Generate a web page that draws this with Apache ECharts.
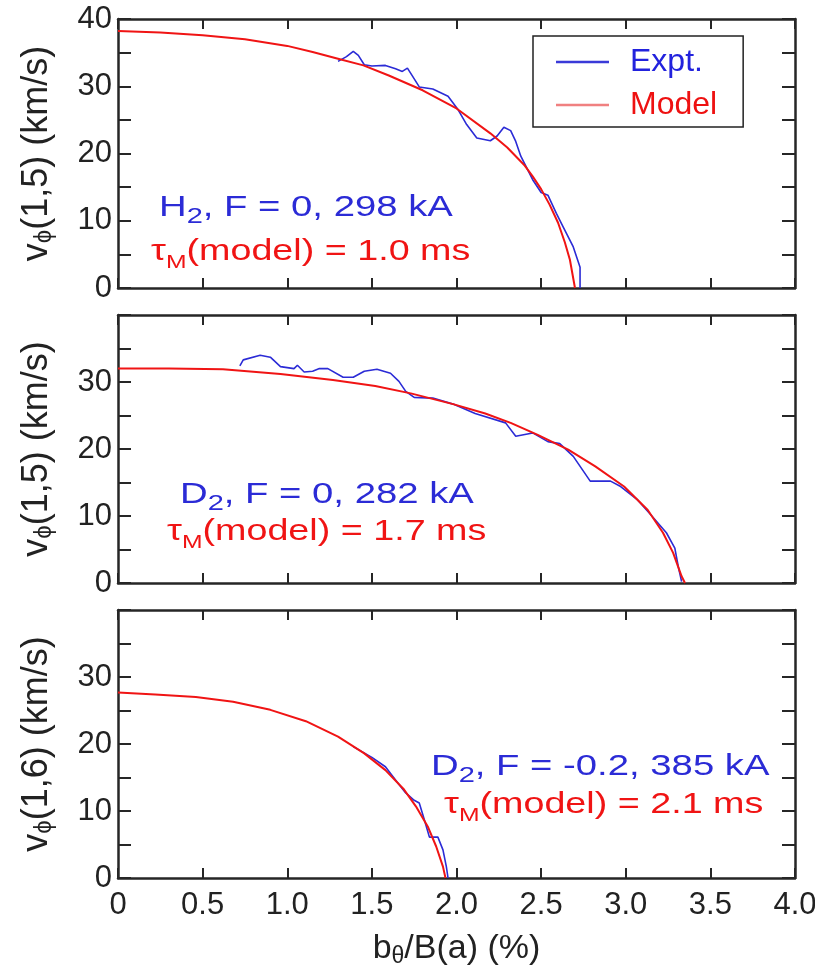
<!DOCTYPE html>
<html>
<head>
<meta charset="utf-8">
<script src="https://cdn.jsdelivr.net/npm/echarts@6/dist/echarts.min.js"></script>
<style>html,body{margin:0;padding:0;background:#fff}#c{width:815px;height:966px}</style>
</head>
<body>
<div id="c"></div>
<script>
// ---- data ----
const xTickLabels = ['0','0.5','1.0','1.5','2.0','2.5','3.0','3.5','4.0'];
const yTickLabelsTop = [0,10,20,30,40];
const yTickLabelsOther = [0,10,20,30];

const p1Expt = [[1.30,33.7],[1.35,34.4],[1.39,35.2],[1.42,34.6],[1.455,33.2],[1.50,33.0],[1.58,33.1],[1.64,32.6],[1.68,32.2],[1.71,32.7],[1.74,31.5],[1.78,29.9],[1.86,29.6],[1.95,28.5],[2.01,26.5],[2.06,24.3],[2.12,22.3],[2.20,21.9],[2.24,22.6],[2.28,23.9],[2.32,23.4],[2.35,21.8],[2.38,19.6],[2.45,16.1],[2.50,14.2],[2.54,13.8],[2.59,11.1],[2.63,9.1],[2.69,6.1],[2.73,3.1],[2.73,0]];
const p1Model = [[0,38.2],[0.25,38.0],[0.5,37.6],[0.75,37.0],[1.0,36.0],[1.15,35.1],[1.3,34.1],[1.45,33.1],[1.6,31.6],[1.8,29.4],[2.0,26.7],[2.2,23.0],[2.3,20.9],[2.4,18.3],[2.45,16.6],[2.5,14.7],[2.55,12.4],[2.6,9.7],[2.64,6.8],[2.67,4.2],[2.7,0]];

const p2Expt = [[0.72,32.4],[0.74,33.3],[0.84,34.0],[0.90,33.7],[0.96,32.3],[1.04,32.0],[1.06,32.5],[1.10,31.5],[1.15,31.6],[1.19,32.0],[1.24,32.0],[1.33,30.7],[1.39,30.7],[1.455,31.6],[1.53,31.9],[1.61,31.3],[1.66,30.1],[1.70,28.6],[1.75,27.7],[1.86,27.6],[1.98,26.7],[2.11,25.3],[2.29,23.9],[2.35,21.9],[2.45,22.4],[2.54,21.1],[2.61,20.8],[2.69,18.9],[2.79,15.2],[2.91,15.2],[2.97,14.4],[3.07,12.4],[3.14,10.4],[3.24,7.5],[3.29,5.2],[3.31,2.5],[3.33,0.2]];
const p2Model = [[0,32.0],[0.3,32.0],[0.62,31.9],[0.96,31.2],[1.27,30.3],[1.52,29.4],[1.73,28.3],[1.98,26.7],[2.17,25.3],[2.32,23.9],[2.48,22.1],[2.66,19.9],[2.82,17.4],[2.99,14.4],[3.13,10.9],[3.22,7.5],[3.28,4.5],[3.33,1.0],[3.35,0]];

const p3Expt = [[1.39,19.6],[1.50,18.0],[1.58,16.6],[1.65,14.3],[1.70,12.7],[1.75,11.6],[1.78,11.2],[1.81,8.7],[1.84,6.1],[1.89,6.1],[1.92,4.2],[1.94,1.7],[1.95,0]];
const p3Model = [[0,27.7],[0.22,27.4],[0.46,27.0],[0.68,26.3],[0.90,25.1],[1.11,23.4],[1.30,21.1],[1.455,18.6],[1.58,16.1],[1.69,13.2],[1.76,10.7],[1.83,7.7],[1.88,4.7],[1.92,1.7],[1.935,0]];

const yNames = ['(1,5)','(1,5)','(1,6)'];
const annotBlue = [['H','2',', F = 0, 298 kA'],['D','2',', F = 0, 282 kA'],['D','2',', F = -0.2, 385 kA']];
const annotRed = ['1.0','1.7','2.1'];

// ---- styles ----
const FONT = '"Liberation Sans", Arial, Helvetica, sans-serif';
const BLUE = '#2b2bd6';
const RED = '#f01414';
const AX = '#262626';
const grids = [
  {left:118, width:677, top:19, height:269},
  {left:118, width:677, top:315, height:268},
  {left:118, width:677, top:610, height:268}
];

const xAxes = [], yAxes = [], series = [];
grids.forEach((g, i) => {
  const common = {
    type:'value', gridIndex:i, min:0, max:4, interval:0.5,
    axisLine:{show:true, onZero:false, lineStyle:{color:AX, width:2.5}},
    axisTick:{show:true, inside:true, length:10, lineStyle:{color:AX, width:2}},
    splitLine:{show:false}
  };
  xAxes.push(Object.assign({}, common, {
    position:'bottom',
    name: i === 2 ? 'b{s|θ}/B(a) (%)' : '',
    nameLocation:'middle', nameGap:52,
    nameTextStyle:{fontFamily:FONT, fontSize:34, color:'#222', lineHeight:38,
      rich:{s:{fontFamily:FONT, fontSize:23, color:'#222', verticalAlign:'bottom', lineHeight:14}}},
    axisLabel:{show: i === 2, margin:12, fontFamily:FONT, fontSize:31, color:'#222',
      formatter: v => xTickLabels[Math.round(v / 0.5)]}
  }));
  xAxes.push(Object.assign({}, common, {position:'top', axisLabel:{show:false}}));
  const labs = i === 0 ? yTickLabelsTop : yTickLabelsOther;
  const ycommon = {
    type:'value', gridIndex:i, min:0, max:40, interval:5,
    axisLine:{show:true, onZero:false, lineStyle:{color:AX, width:2.5}},
    axisTick:{show:true, inside:true, length:13, lineStyle:{color:AX, width:2}},
    splitLine:{show:false}
  };
  yAxes.push(Object.assign({}, ycommon, {
    position:'left',
    name:'v{s|ϕ}' + yNames[i] + ' (km/s)',
    nameLocation:'middle', nameGap:62,
    nameTextStyle:{fontFamily:FONT, fontSize:36, color:'#222', lineHeight:38,
      rich:{s:{fontFamily:FONT, fontSize:24, color:'#222', verticalAlign:'bottom', lineHeight:14}}},
    axisLabel:{margin:6, fontFamily:FONT, fontSize:31, color:'#222',
      formatter: v => (labs.indexOf(v) >= 0 ? String(v) : '')}
  }));
  yAxes.push(Object.assign({}, ycommon, {position:'right', axisLabel:{show:false}}));
});

const panels = [[p1Expt, p1Model],[p2Expt, p2Model],[p3Expt, p3Model]];
panels.forEach((p, i) => {
  series.push({name:'Expt.', type:'line', xAxisIndex:2*i, yAxisIndex:2*i, data:p[0],
    symbol:'none', lineStyle:{color:BLUE, width:1.6}, itemStyle:{color:BLUE}, z:2});
  series.push({name:'Model', type:'line', xAxisIndex:2*i, yAxisIndex:2*i, data:p[1],
    symbol:'none', lineStyle:{color:RED, width:2}, itemStyle:{color:RED}, z:3});
});

const annotPos = [
  {bx:159, by:208, rx:151, ry:252},
  {bx:180, by:495, rx:167, ry:532},
  {bx:431, by:767, rx:444, ry:805}
];
const graphics = [];
annotPos.forEach((a, i) => {
  const b = annotBlue[i];
  graphics.push({type:'text', x:a.bx, y:a.by, scaleX:1.32, z:10,
    style:{text:'{m|' + b[0] + '}{s|' + b[1] + '}{m|' + b[2] + '}', verticalAlign:'middle',
      rich:{m:{fontFamily:FONT, fontSize:29, fill:BLUE, lineHeight:40},
            s:{fontFamily:FONT, fontSize:22, fill:BLUE, lineHeight:12, verticalAlign:'bottom'}}}});
  graphics.push({type:'text', x:a.rx, y:a.ry, scaleX:1.3, z:10,
    style:{text:'{m|τ}{s|M}{m|(model) = ' + annotRed[i] + ' ms}', verticalAlign:'middle',
      rich:{m:{fontFamily:FONT, fontSize:29, fill:RED, lineHeight:40},
            s:{fontFamily:FONT, fontSize:19, fill:RED, lineHeight:12, verticalAlign:'bottom'}}}});
});

const chart = echarts.init(document.getElementById('c'), null, {renderer:'canvas'});
chart.setOption({
  backgroundColor:'#fff',
  animation:false,
  grid: grids.map(g => Object.assign({outerBoundsMode:'none', containLabel:false}, g)),
  xAxis: xAxes,
  yAxis: yAxes,
  legend:{
    orient:'vertical', left:533, top:36,
    padding:[8,26,4,23], itemGap:7,
    backgroundColor:'#fff', borderColor:'#222', borderWidth:1.5,
    icon:'rect', itemWidth:53, itemHeight:2.5,
    textStyle:{fontFamily:FONT, fontSize:32, lineHeight:36, padding:[0,0,0,16]},
    data:[
      {name:'Expt.', itemStyle:{color:'#3a3ad8'}, textStyle:{color:'#2222dd'}},
      {name:'Model', itemStyle:{color:'#f08080'}, textStyle:{color:'#ee1111'}}
    ]
  },
  graphic: graphics,
  series: series
});
</script>
</body>
</html>
